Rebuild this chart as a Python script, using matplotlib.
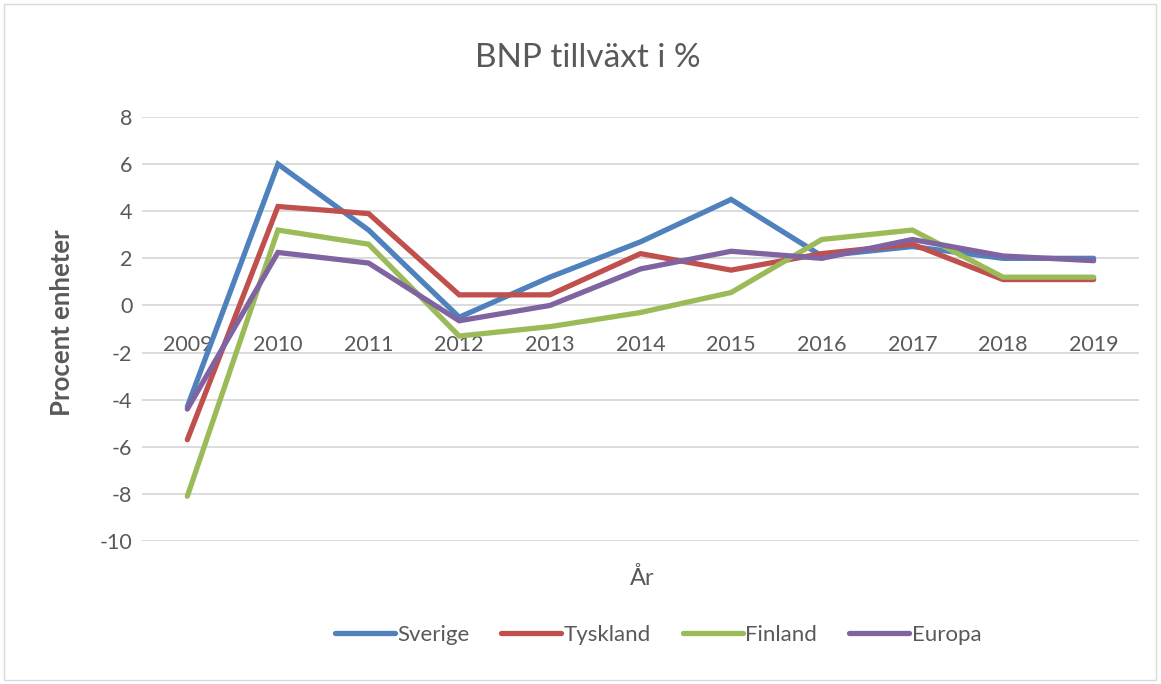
import matplotlib.pyplot as plt
from matplotlib.patches import Rectangle

# data
years = ['2009', '2010', '2011', '2012', '2013', '2014', '2015', '2016', '2017', '2018', '2019']
sverige = [-4.3, 6.0, 3.2, -0.5, 1.2, 2.7, 4.5, 2.1, 2.5, 2.0, 2.0]
tyskland = [-5.7, 4.2, 3.9, 0.45, 0.45, 2.2, 1.5, 2.2, 2.6, 1.1, 1.1]
finland = [-8.1, 3.2, 2.6, -1.3, -0.9, -0.3, 0.55, 2.8, 3.2, 1.2, 1.2]
europa = [-4.4, 2.25, 1.8, -0.65, 0.0, 1.55, 2.3, 2.0, 2.8, 2.1, 1.9]
series_names = ['Sverige', 'Tyskland', 'Finland', 'Europa']
colors = ['#4F81BD', '#C0504D', '#9BBB59', '#8064A2']

TXT = '#595959'
plt.rcParams['font.family'] = ['Lato', 'DejaVu Sans']
plt.rcParams['axes.unicode_minus'] = False


def main():
    fig = plt.figure(figsize=(11.61, 6.84), dpi=100)
    ax = fig.add_axes([142 / 1161, 1 - 541 / 684, 997 / 1161, 424 / 684])

    x = range(len(years))
    for vals, name, c in zip([sverige, tyskland, finland, europa], series_names, colors):
        ax.plot(x, vals, color=c, lw=3.8, label=name, solid_capstyle='round', solid_joinstyle='miter')

    ax.set_xlim(-0.5, len(years) - 0.5)
    ax.set_ylim(-10, 8)
    ax.set_yticks(range(-10, 9, 2))
    ax.grid(axis='y', color='#d9d9d9', lw=1.3)
    ax.set_axisbelow(True)
    for s in ['top', 'right', 'left']:
        ax.spines[s].set_visible(False)
    ax.spines['bottom'].set_position(('data', 0))
    ax.spines['bottom'].set_visible(False)
    ax.set_xticks(list(x))
    ax.set_xticklabels(years)
    ax.tick_params(axis='x', length=0, pad=21, labelsize=15.5, labelcolor=TXT)
    ax.tick_params(axis='y', length=0, pad=7, labelsize=15.5, labelcolor=TXT)

    fig.text(588 / 1161, 1 - 58 / 684, 'BNP tillväxt i %', ha='center', va='center', fontsize=24, color=TXT)
    fig.text(62 / 1161, 1 - 323 / 684, 'Procent enheter', ha='center', va='center', rotation=90,
             fontsize=18.5, fontweight='bold', color=TXT)
    fig.text(642 / 1161, 1 - 578 / 684, 'År', ha='center', va='center', fontsize=17, color=TXT)

    leg = fig.legend(loc='center', bbox_to_anchor=(658 / 1161, 1 - 635 / 684), ncol=4, frameon=False,
                     fontsize=16, handlelength=2.7, columnspacing=1.45, handletextpad=0.1)
    for t in leg.get_texts():
        t.set_color(TXT)

    # outer chart border
    fig.patches.append(Rectangle((4 / 1161, 4 / 684), 1152 / 1161, 676 / 684, transform=fig.transFigure,
                                 fill=False, edgecolor='#d9d9d9', lw=1))

    plt.savefig('out.png', dpi=100)


if __name__ == '__main__':
    main()
